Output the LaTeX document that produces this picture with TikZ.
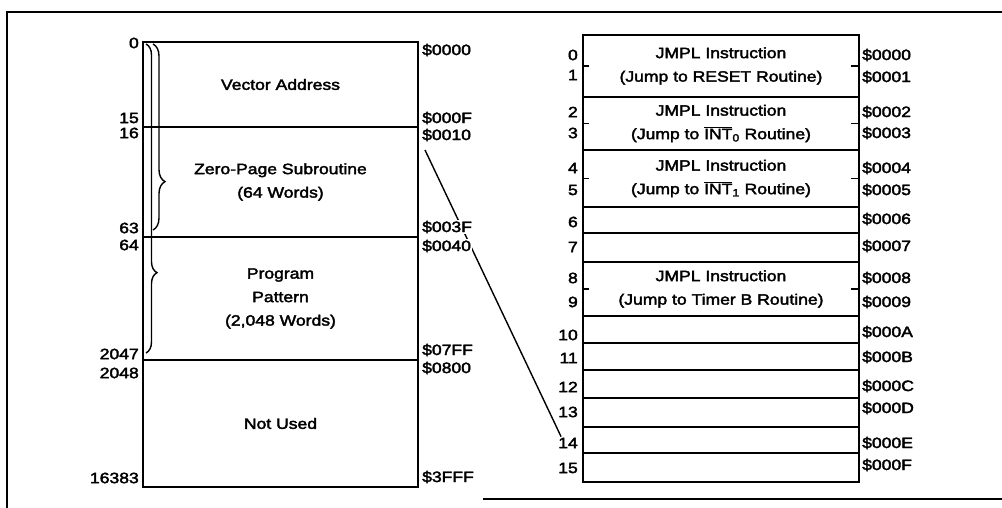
\documentclass[tikz,border=0pt]{standalone}
\usepackage{fontspec}
\setmainfont{Liberation Sans}[FakeStretch=1.17, FakeBold=2.5]
\usetikzlibrary{decorations.pathreplacing,backgrounds}
\newcommand{\intbar}[1]{$\overline{\mbox{INT}}$\textsubscript{#1}}
\tikzset{
cell/.style={draw, line width=1.8pt, inner sep=0pt, align=center},
lcell/.style={cell, minimum width=275pt},
rcell/.style={cell, minimum width=276pt},
addr/.style={inner sep=1pt, anchor=west, fill=white},
num/.style={inner sep=1pt, anchor=east},
thinline/.style={line width=1.4pt},
tickline/.style={line width=1.6pt},
bracebar/.style={thinline, decorate, decoration={brace, amplitude=#1, aspect=0.74}}
}
\begin{document}
\begin{tikzpicture}[x=1pt, y=-1pt, font=\fontsize{15}{23.5}\selectfont]
\useasboundingbox (0,0) rectangle (1002,508);
\draw[line width=1.8pt] (7,508) -- (7,12) -- (1002,12);
\draw[line width=1.8pt] (483,499) -- (1002,499);
\node[lcell, minimum height=85pt] (vec) at (280.5,84.5) {Vector Address};
\node[lcell, minimum height=110pt] (zps) at (280.5,182) {Zero-Page Subroutine\\(64 Words)};
\node[lcell, minimum height=123pt] (prg) at (280.5,298.5) {Program\\Pattern\\(2,048 Words)};
\node[lcell, minimum height=127pt] (nus) at (280.5,423.5) {Not Used};
\node[num] (l0) at (140,43) {0};
\node[num] (l15) at (140,118) {15};
\node[num] (l16) at (140,133) {16};
\node[num] (l63) at (140,228) {63};
\node[num] (l64) at (140,245) {64};
\node[num] (l2047) at (140,354) {2047};
\node[num] (l2048) at (140,373) {2048};
\node[num] (l16383) at (140,478) {16383};
\node[addr] (a0000) at (421,50) {\$0000};
\node[addr] (a000F) at (421,118) {\$000F};
\node[addr] (a0010) at (421,135) {\$0010};
\node[addr] (a003F) at (421,227) {\$003F};
\node[addr] (a0040) at (421,246) {\$0040};
\node[addr] (a07FF) at (421,350) {\$07FF};
\node[addr] (a0800) at (421,368) {\$0800};
\node[addr] (a3FFF) at (421,477) {\$3FFF};
\draw[bracebar=11pt] (146,44) -- (146,353);
\draw[bracebar=12pt] (153,44) -- (153,230);
\node[rcell, minimum height=62pt] (w01) at (721,66) {JMPL Instruction\\(Jump to RESET Routine)};
\node[rcell, minimum height=53pt] (w23) at (721,123.5) {JMPL Instruction\\(Jump to \intbar{0} Routine)};
\node[rcell, minimum height=57pt] (w45) at (721,178.5) {JMPL Instruction\\(Jump to \intbar{1} Routine)};
\node[rcell, minimum height=26pt] (w6) at (721,220) {};
\node[rcell, minimum height=29pt] (w7) at (721,247.5) {};
\node[rcell, minimum height=54pt] (w89) at (721,289) {JMPL Instruction\\(Jump to Timer B Routine)};
\node[rcell, minimum height=27pt] (w10) at (721,329.5) {};
\node[rcell, minimum height=27pt] (w11) at (721,356.5) {};
\node[rcell, minimum height=28pt] (w12) at (721,384) {};
\node[rcell, minimum height=29pt] (w13) at (721,412.5) {};
\node[rcell, minimum height=26pt] (w14) at (721,440) {};
\node[rcell, minimum height=29pt] (w15) at (721,467.5) {};
\draw[tickline] (w01.west) -- ++(7,0);
\draw[tickline] (w01.east) -- ++(-9,0);
\draw[tickline] (w23.west) -- ++(7,0);
\draw[tickline] (w23.east) -- ++(-9,0);
\draw[tickline] (w45.west) -- ++(7,0);
\draw[tickline] (w45.east) -- ++(-9,0);
\draw[tickline] (w89.west) -- ++(7,0);
\draw[tickline] (w89.east) -- ++(-9,0);
\node[num] (n0) at (579,55) {0};
\node[num] (n1) at (579,75) {1};
\node[num] (n2) at (579,112) {2};
\node[num] (n3) at (579,133) {3};
\node[num] (n4) at (579,168) {4};
\node[num] (n5) at (579,190) {5};
\node[num] (n6) at (579,222) {6};
\node[num] (n7) at (579,247) {7};
\node[num] (n8) at (579,278) {8};
\node[num] (n9) at (579,302) {9};
\node[num] (n10) at (579,335) {10};
\node[num] (n11) at (579,358) {11};
\node[num] (n12) at (579,387) {12};
\node[num] (n13) at (579,412) {13};
\node[num] (n14) at (579,443) {14};
\node[num] (n15) at (579,468) {15};
\node[addr] (h0) at (861,55) {\$0000};
\node[addr] (h1) at (861,77) {\$0001};
\node[addr] (h2) at (861,112) {\$0002};
\node[addr] (h3) at (861,133) {\$0003};
\node[addr] (h4) at (861,168) {\$0004};
\node[addr] (h5) at (861,190) {\$0005};
\node[addr] (h6) at (861,219) {\$0006};
\node[addr] (h7) at (861,246) {\$0007};
\node[addr] (h8) at (861,278) {\$0008};
\node[addr] (h9) at (861,302) {\$0009};
\node[addr] (hA) at (861,332) {\$000A};
\node[addr] (hB) at (861,357) {\$000B};
\node[addr] (hC) at (861,386) {\$000C};
\node[addr] (hD) at (861,408) {\$000D};
\node[addr] (hE) at (861,443) {\$000E};
\node[addr] (hF) at (861,465) {\$000F};
\coordinate (dtop) at (425,150);
\begin{scope}[on background layer]
\draw[thinline] (dtop) -- ([xshift=4pt]n14.north west);
\end{scope}
\end{tikzpicture}
\end{document}
